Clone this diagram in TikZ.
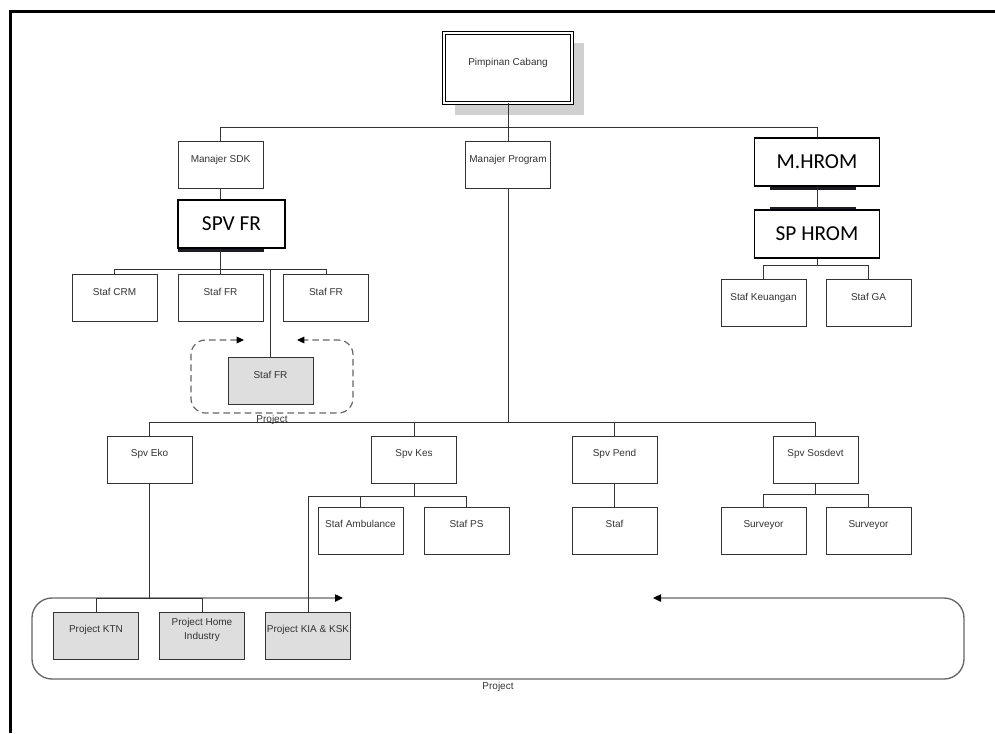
\documentclass[tikz,border=0pt]{standalone}
\usepackage{fontspec}
\setmainfont{Liberation Sans}
\newfontfamily\calib{Carlito}
\usetikzlibrary{arrows.meta}
\definecolor{txt}{HTML}{333333}
\definecolor{boxfill}{HTML}{DEDEDE}
\definecolor{lnc}{HTML}{333333}
\definecolor{projc}{HTML}{666666}
\definecolor{shadowc}{HTML}{D0D0D0}
\definecolor{barc}{HTML}{1A1A2A}
\tikzset{
  orgbox/.style={draw=lnc, line width=0.75pt, minimum width=63.75pt, minimum height=35.25pt,
    inner sep=0pt, font=\fontsize{7.5}{10.5}\selectfont, text=txt,
    text height=5.25pt, text depth=9.6pt, align=center},
  grayorg/.style={orgbox, fill=boxfill},
  bigbox/.style={draw=black, line width=1.4pt, minimum height=36pt, inner sep=0pt,
    font=\calib\fontsize{16}{18}\selectfont, fill=white},
  conn/.style={draw=lnc, line width=0.75pt},
  lbl/.style={font=\fontsize{7.5}{9}\selectfont, text=txt, inner sep=0pt},
}
\begin{document}
\begin{tikzpicture}[x=0.75pt,y=-0.75pt]
\useasboundingbox (0,0) rectangle (995,733);
% frame
\draw[line width=2.25pt] (10,733) -- (10,11) -- (995,11);

% top
\fill[shadowc] (455,43) rectangle (584,115);
\node[draw=black, line width=0.6pt, double=white, double distance=1.6pt, fill=white,
  minimum width=96pt, minimum height=52.5pt, inner sep=0pt,
  font=\fontsize{7.5}{9}\selectfont, text=txt, text height=5.25pt, text depth=8.85pt]
  (pc) at (508,68) {Pimpinan Cabang};

\node[orgbox] (msdk) at (220.5,165) {Manajer SDK};
\node[orgbox] (mprog) at (508,165) {Manajer Program};
\node[bigbox, minimum width=93.75pt] (mhrom) at (817,162) {M.HROM};
\node[bigbox, minimum width=93.75pt] (sphrom) at (817,234) {SP HROM};
\node[bigbox, minimum width=80.25pt] (spvfr) at (231.5,224) {SPV FR};

% dark bars
\draw[barc, line width=2pt] ([xshift=0.75pt,yshift=-1pt]spvfr.south west) -- ([xshift=-16.5pt,yshift=-1pt]spvfr.south east);
\draw[barc, line width=2pt] ([xshift=12pt,yshift=-1pt]mhrom.south west) -- ([xshift=-18pt,yshift=-1pt]mhrom.south east);
\draw[barc, line width=1.5pt] ([xshift=12pt,yshift=0.9pt]sphrom.north west) -- ([xshift=-18pt,yshift=0.9pt]sphrom.north east);

\node[orgbox] (stafkeu) at (763.5,303) {Staf Keuangan};
\node[orgbox] (stafga) at (868.5,303) {Staf GA};

\node[orgbox] (stafcrm) at (114.5,298) {Staf CRM};
\node[orgbox] (staffra) at (220.5,298) {Staf FR};
\node[orgbox] (staffrb) at (326,298) {Staf FR};
\node[grayorg] (staffrc) at (270.5,381) {Staf FR};

% dashed project loop
\draw[projc, line width=0.9pt, dash pattern=on 5pt off 3pt, rounded corners=11pt,
  {Triangle[length=5.5pt,width=5pt,color=black]}-{Triangle[length=5.5pt,width=5pt,color=black]}]
  (244,340) -- (191,340) -- (191,413) -- (353,413) -- (353,340) -- (297,340);
\node[lbl] (projlbl1) at (272,420) {Project};

% second level
\node[orgbox] (spveko) at (149.5,459.5) {Spv Eko};
\node[orgbox] (spvkes) at (414,459.5) {Spv Kes};
\node[orgbox] (spvpend) at (614.5,459.5) {Spv Pend};
\node[orgbox] (spvsos) at (815.5,459.5) {Spv Sosdevt};

\node[orgbox] (stafamb) at (360.5,530.5) {Staf Ambulance};
\node[orgbox] (stafps) at (466.5,530.5) {Staf PS};
\node[orgbox] (staf) at (614.5,530.5) {Staf};
\node[orgbox] (surv1) at (763.5,530.5) {Surveyor};
\node[orgbox] (surv2) at (868.5,530.5) {Surveyor};

% big project loop
\draw[projc, line width=1pt, rounded corners=15pt,
  {Triangle[length=6pt,width=5.5pt,color=black]}-{Triangle[length=6pt,width=5.5pt,color=black]}]
  (343,598) -- (32,598) -- (32,679) -- (964,679) -- (964,598) -- (653,598);
\node[lbl] (projlbl2) at (498,687) {Project};

\node[grayorg] (projktn) at (96,635.5) {Project KTN};
\node[grayorg, text depth=0pt] (projhome) at (202,635.5) {Project Home\\Industry};
\node[grayorg] (projkia) at (308,635.5) {Project KIA \& KSK};

% connectors
\coordinate (b1) at (508,127);
\draw[conn] (pc.south) -- (b1);
\draw[conn] (msdk.north) -- (msdk.north |- b1) -- (mhrom.north |- b1) -- (mhrom.north);
\draw[conn] (mprog.north) -- (mprog.north |- b1);

\draw[conn] (msdk.south) -- (msdk.south |- spvfr.north);
\coordinate (b2) at (220.5,269);
\draw[conn] (msdk.south |- spvfr.south) -- (b2);
\draw[conn] (stafcrm.north) -- (stafcrm.north |- b2) -- (staffrb.north |- b2) -- (staffrb.north);
\draw[conn] (staffra.north) -- (staffra.north |- b2);
\draw[conn] (staffrc.north) -- (staffrc.north |- b2);

\draw[conn] (mhrom.south) -- (sphrom.north);
\coordinate (bh) at (817,265);
\draw[conn] (sphrom.south) -- (bh);
\draw[conn] (stafkeu.north) -- (stafkeu.north |- bh) -- (stafga.north |- bh) -- (stafga.north);

\coordinate (b3) at (508,422);
\draw[conn] (mprog.south) -- (b3);
\draw[conn] (spveko.north) -- (spveko.north |- b3) -- (spvsos.north |- b3) -- (spvsos.north);
\draw[conn] (spvkes.north) -- (spvkes.north |- b3);
\draw[conn] (spvpend.north) -- (spvpend.north |- b3);

\coordinate (b4) at (414,496);
\draw[conn] (spvkes.south) -- (b4);
\draw[conn] (projkia.north) -- (projkia.north |- b4) -- (stafps.north |- b4) -- (stafps.north);
\draw[conn] (stafamb.north) -- (stafamb.north |- b4);

\draw[conn] (spvpend.south) -- (staf.north);

\coordinate (b5) at (815.5,494);
\draw[conn] (spvsos.south) -- (b5);
\draw[conn] (surv1.north) -- (surv1.north |- b5) -- (surv2.north |- b5) -- (surv2.north);

\coordinate (b6) at (149.5,598);
\draw[conn] (spveko.south) -- (b6);
\draw[conn] (projktn.north) -- (projktn.north |- b6) -- (projhome.north |- b6) -- (projhome.north);
\end{tikzpicture}
\end{document}
